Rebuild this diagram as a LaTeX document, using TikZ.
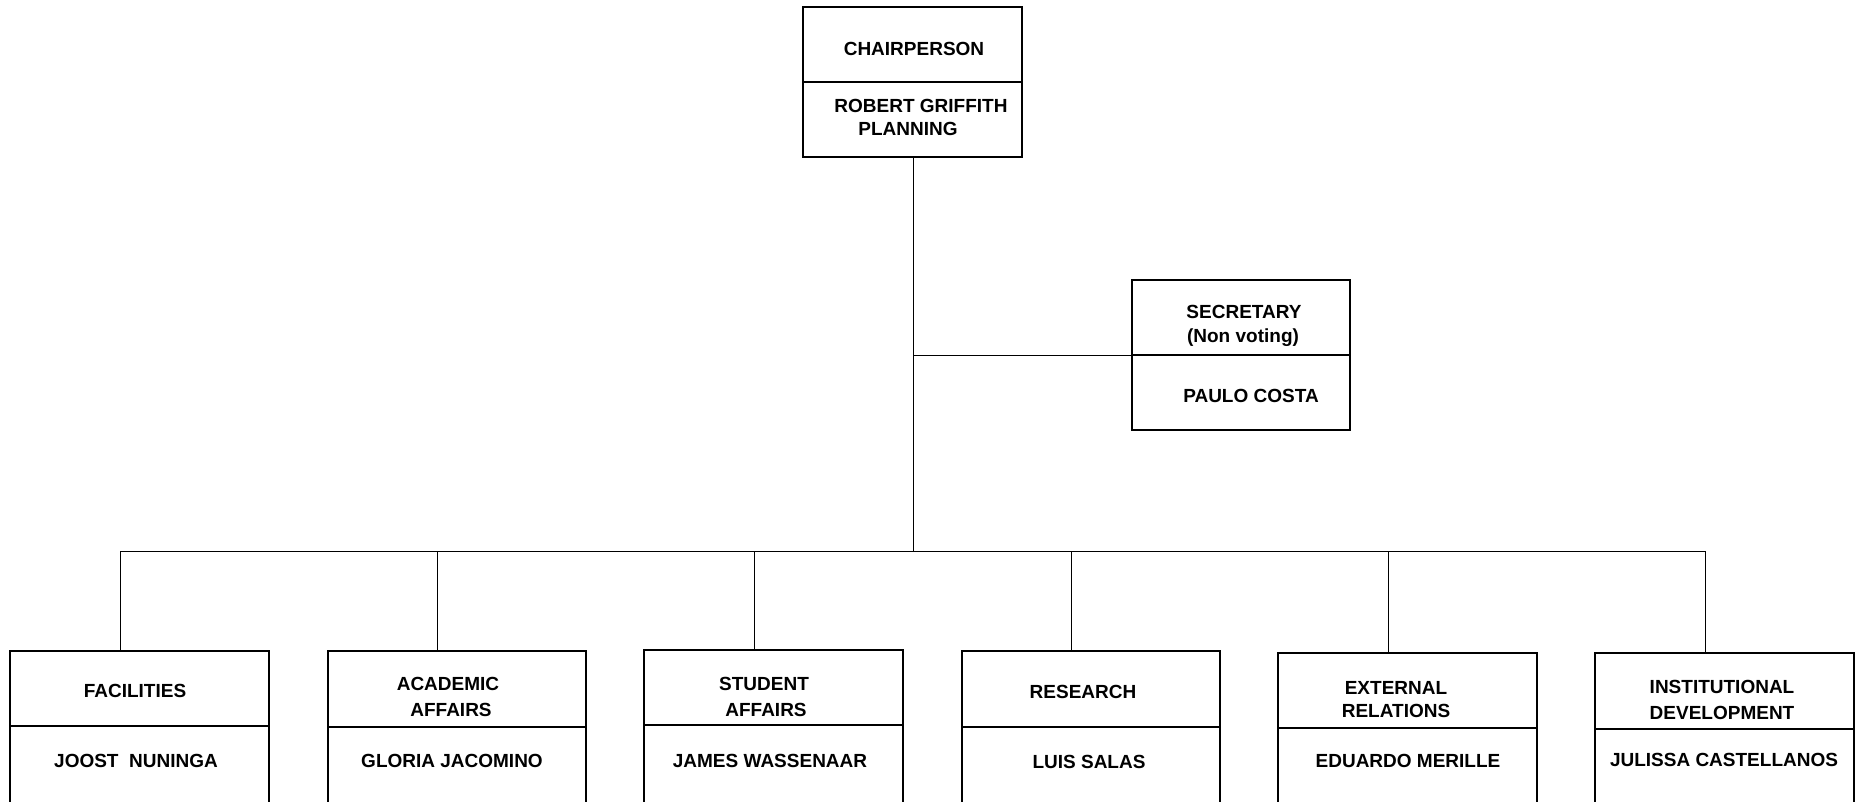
\documentclass[tikz,border=0pt]{standalone}
\usepackage{fontspec}
\setmainfont{Liberation Sans}
\begin{document}
\begin{tikzpicture}[x=1pt,y=-1pt,
  box/.style={draw=black,line width=1.6pt,fill=white,inner sep=0pt,outer sep=0pt,anchor=north west},
  lbl/.style={anchor=base,inner sep=0pt,font=\fontsize{19}{23}\selectfont\bfseries},
  conn/.style={draw=black,line width=1pt}]
\clip (0,0) rectangle (1862,801);
\fill[white] (0,0) rectangle (1862,801);
% chair
\node[box,minimum width=219pt,minimum height=75pt] (chairT) at (803,7) {};
\node[box,minimum width=219pt,minimum height=75pt] (chairB) at (803,82) {};
\node[lbl] (t1) at (914,55) {CHAIRPERSON};
\node[lbl] (t2) at (921,112) {ROBERT GRIFFITH};
\node[lbl] (t3) at (908,135) {PLANNING};
% secretary
\node[box,minimum width=218pt,minimum height=75pt] (secT) at (1132,280) {};
\node[box,minimum width=218pt,minimum height=75pt] (secB) at (1132,355) {};
\node[lbl] (t4) at (1244,318) {SECRETARY};
\node[lbl] (t5) at (1243,342) {(Non voting)};
\node[lbl] (t6) at (1251,402) {PAULO COSTA};
% bottom boxes
\node[box,minimum width=259pt,minimum height=75pt] (d1T) at (10,651) {};
\node[box,minimum width=259pt,minimum height=100pt] (d1B) at (10,726) {};
\node[box,minimum width=258pt,minimum height=76pt] (d2T) at (328,651) {};
\node[box,minimum width=258pt,minimum height=100pt] (d2B) at (328,727) {};
\node[box,minimum width=259pt,minimum height=75pt] (d3T) at (644,650) {};
\node[box,minimum width=259pt,minimum height=100pt] (d3B) at (644,725) {};
\node[box,minimum width=258pt,minimum height=76pt] (d4T) at (962,651) {};
\node[box,minimum width=258pt,minimum height=100pt] (d4B) at (962,727) {};
\node[box,minimum width=259pt,minimum height=75pt] (d5T) at (1278,653) {};
\node[box,minimum width=259pt,minimum height=100pt] (d5B) at (1278,728) {};
\node[box,minimum width=259pt,minimum height=76pt] (d6T) at (1595,653) {};
\node[box,minimum width=259pt,minimum height=100pt] (d6B) at (1595,729) {};
\node[lbl] (a1) at (135,697) {FACILITIES};
\node[lbl] (a2) at (136,767) {JOOST\ \ NUNINGA};
\node[lbl] (b1) at (448,690) {ACADEMIC};
\node[lbl] (b2) at (451,716) {AFFAIRS};
\node[lbl] (b3) at (452,767) {GLORIA JACOMINO};
\node[lbl] (c1) at (764,690) {STUDENT};
\node[lbl] (c2) at (766,716) {AFFAIRS};
\node[lbl] (c3) at (770,767) {JAMES WASSENAAR};
\node[lbl] (e1) at (1083,698) {RESEARCH};
\node[lbl] (e2) at (1089,768) {LUIS SALAS};
\node[lbl] (f1) at (1396,694) {EXTERNAL};
\node[lbl] (f2) at (1396,717) {RELATIONS};
\node[lbl] (f3) at (1408,767) {EDUARDO MERILLE};
\node[lbl] (g1) at (1722,693) {INSTITUTIONAL};
\node[lbl] (g2) at (1722,719) {DEVELOPMENT};
\node[lbl] (g3) at (1724,766) {JULISSA CASTELLANOS};
% connectors
\coordinate (bus) at (913,551);
\coordinate (jn) at (913,355);
\coordinate (p1) at (120,551);
\coordinate (p2) at (437,551);
\coordinate (p3) at (754,551);
\coordinate (p4) at (1071,551);
\coordinate (p5) at (1388,551);
\coordinate (p6) at (1705,551);
\draw[conn] (chairB.south -| bus) -- (bus);
\draw[conn] (jn) -- (secT.south west);
\draw[conn] (p1) -- (p6);
\draw[conn] (p1) -- (p1 |- d1T.north);
\draw[conn] (p2) -- (p2 |- d2T.north);
\draw[conn] (p3) -- (p3 |- d3T.north);
\draw[conn] (p4) -- (p4 |- d4T.north);
\draw[conn] (p5) -- (p5 |- d5T.north);
\draw[conn] (p6) -- (p6 |- d6T.north);
\end{tikzpicture}
\end{document}
